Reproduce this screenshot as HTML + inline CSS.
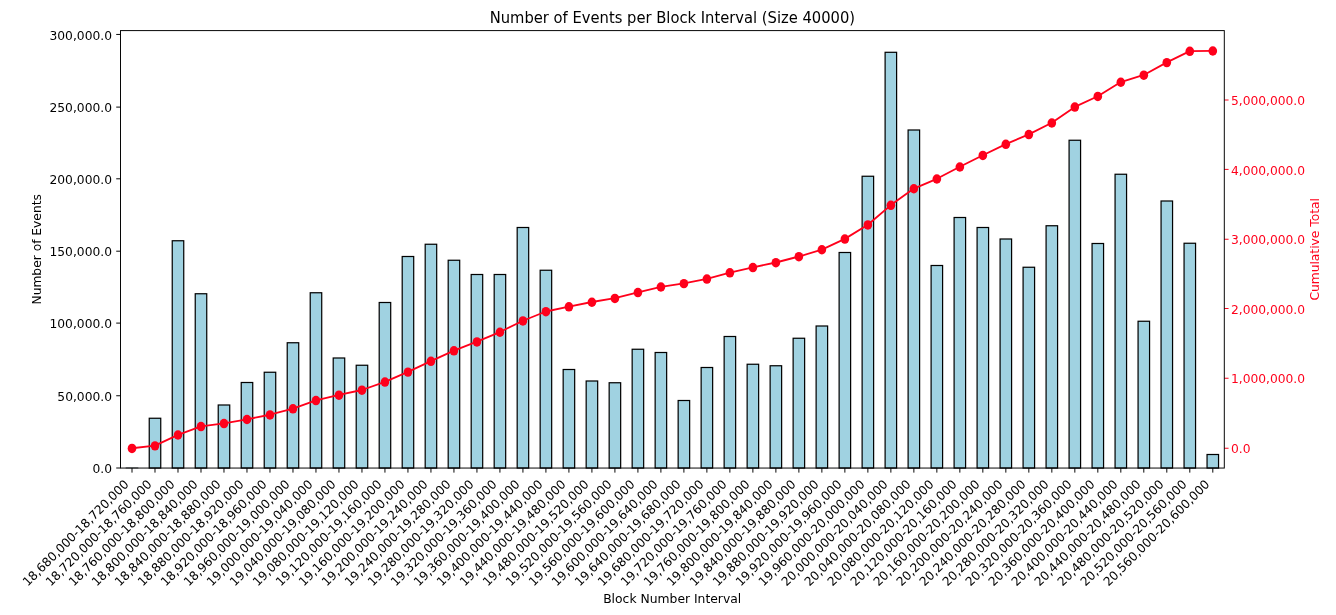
<!DOCTYPE html>
<html lang="en"><head><meta charset="utf-8"><title>Number of Events per Block Interval (Size 40000)</title>
<style>
html,body{margin:0;padding:0;background:#fff;}
body{width:1336px;height:615px;overflow:hidden;}
svg{display:block;}
text{font-family:"DejaVu Sans", "Liberation Sans", sans-serif;font-size:12.28px;fill:#000;}
.t{font-size:14.74px;}
.r{fill:#ff001b;}
.x{font-size:12.2px;}
.bar{fill:#a0d2e1;stroke:#000;stroke-width:1.220;stroke-linejoin:miter;}
.sp{stroke:#000;stroke-width:0.976;fill:none;stroke-linecap:square;}
.tk{stroke:#000;stroke-width:0.976;}
.tkr{stroke:#ff001b;stroke-width:0.976;}
</style></head><body>
<svg width="1336" height="615" viewBox="0 0 1336 615">
<rect width="1336" height="615" fill="#ffffff"/>

<g>
<rect class="bar" x="126.25" y="467.80" width="11.50" height="0.25" stroke-opacity="0.45"/>
<rect class="bar" x="149.24" y="418.25" width="11.50" height="49.80"/>
<rect class="bar" x="172.24" y="240.75" width="11.50" height="227.30"/>
<rect class="bar" x="195.24" y="293.75" width="11.50" height="174.30"/>
<rect class="bar" x="218.23" y="405.00" width="11.50" height="63.05"/>
<rect class="bar" x="241.23" y="382.50" width="11.50" height="85.55"/>
<rect class="bar" x="264.22" y="372.25" width="11.50" height="95.80"/>
<rect class="bar" x="287.22" y="342.75" width="11.50" height="125.30"/>
<rect class="bar" x="310.22" y="292.75" width="11.50" height="175.30"/>
<rect class="bar" x="333.21" y="358.00" width="11.50" height="110.05"/>
<rect class="bar" x="356.21" y="365.25" width="11.50" height="102.80"/>
<rect class="bar" x="379.20" y="302.50" width="11.50" height="165.55"/>
<rect class="bar" x="402.20" y="256.50" width="11.50" height="211.55"/>
<rect class="bar" x="425.19" y="244.25" width="11.50" height="223.80"/>
<rect class="bar" x="448.19" y="260.25" width="11.50" height="207.80"/>
<rect class="bar" x="471.19" y="274.50" width="11.50" height="193.55"/>
<rect class="bar" x="494.18" y="274.50" width="11.50" height="193.55"/>
<rect class="bar" x="517.18" y="227.50" width="11.50" height="240.55"/>
<rect class="bar" x="540.17" y="270.25" width="11.50" height="197.80"/>
<rect class="bar" x="563.17" y="369.50" width="11.50" height="98.55"/>
<rect class="bar" x="586.17" y="381.00" width="11.50" height="87.05"/>
<rect class="bar" x="609.16" y="382.75" width="11.50" height="85.30"/>
<rect class="bar" x="632.16" y="349.25" width="11.50" height="118.80"/>
<rect class="bar" x="655.15" y="352.50" width="11.50" height="115.55"/>
<rect class="bar" x="678.15" y="400.50" width="11.50" height="67.55"/>
<rect class="bar" x="701.14" y="367.50" width="11.50" height="100.55"/>
<rect class="bar" x="724.14" y="336.50" width="11.50" height="131.55"/>
<rect class="bar" x="747.14" y="364.25" width="11.50" height="103.80"/>
<rect class="bar" x="770.13" y="365.75" width="11.50" height="102.30"/>
<rect class="bar" x="793.13" y="338.25" width="11.50" height="129.80"/>
<rect class="bar" x="816.12" y="326.00" width="11.50" height="142.05"/>
<rect class="bar" x="839.12" y="252.50" width="11.50" height="215.55"/>
<rect class="bar" x="862.12" y="176.25" width="11.50" height="291.80"/>
<rect class="bar" x="885.11" y="52.30" width="11.50" height="415.75"/>
<rect class="bar" x="908.11" y="130.00" width="11.50" height="338.05"/>
<rect class="bar" x="931.10" y="265.50" width="11.50" height="202.55"/>
<rect class="bar" x="954.10" y="217.50" width="11.50" height="250.55"/>
<rect class="bar" x="977.09" y="227.50" width="11.50" height="240.55"/>
<rect class="bar" x="1000.09" y="239.00" width="11.50" height="229.05"/>
<rect class="bar" x="1023.09" y="267.25" width="11.50" height="200.80"/>
<rect class="bar" x="1046.08" y="225.75" width="11.50" height="242.30"/>
<rect class="bar" x="1069.08" y="140.25" width="11.50" height="327.80"/>
<rect class="bar" x="1092.07" y="243.50" width="11.50" height="224.55"/>
<rect class="bar" x="1115.07" y="174.25" width="11.50" height="293.80"/>
<rect class="bar" x="1138.07" y="321.25" width="11.50" height="146.80"/>
<rect class="bar" x="1161.06" y="201.00" width="11.50" height="267.05"/>
<rect class="bar" x="1184.06" y="243.25" width="11.50" height="224.80"/>
<rect class="bar" x="1207.05" y="454.50" width="11.50" height="13.55"/>
</g>
<g>
<line class="tk" x1="132.00" y1="468.05" x2="132.00" y2="472.62"/>
<line class="tk" x1="154.99" y1="468.05" x2="154.99" y2="472.62"/>
<line class="tk" x1="177.99" y1="468.05" x2="177.99" y2="472.62"/>
<line class="tk" x1="200.99" y1="468.05" x2="200.99" y2="472.62"/>
<line class="tk" x1="223.98" y1="468.05" x2="223.98" y2="472.62"/>
<line class="tk" x1="246.98" y1="468.05" x2="246.98" y2="472.62"/>
<line class="tk" x1="269.97" y1="468.05" x2="269.97" y2="472.62"/>
<line class="tk" x1="292.97" y1="468.05" x2="292.97" y2="472.62"/>
<line class="tk" x1="315.96" y1="468.05" x2="315.96" y2="472.62"/>
<line class="tk" x1="338.96" y1="468.05" x2="338.96" y2="472.62"/>
<line class="tk" x1="361.96" y1="468.05" x2="361.96" y2="472.62"/>
<line class="tk" x1="384.95" y1="468.05" x2="384.95" y2="472.62"/>
<line class="tk" x1="407.95" y1="468.05" x2="407.95" y2="472.62"/>
<line class="tk" x1="430.94" y1="468.05" x2="430.94" y2="472.62"/>
<line class="tk" x1="453.94" y1="468.05" x2="453.94" y2="472.62"/>
<line class="tk" x1="476.94" y1="468.05" x2="476.94" y2="472.62"/>
<line class="tk" x1="499.93" y1="468.05" x2="499.93" y2="472.62"/>
<line class="tk" x1="522.93" y1="468.05" x2="522.93" y2="472.62"/>
<line class="tk" x1="545.92" y1="468.05" x2="545.92" y2="472.62"/>
<line class="tk" x1="568.92" y1="468.05" x2="568.92" y2="472.62"/>
<line class="tk" x1="591.91" y1="468.05" x2="591.91" y2="472.62"/>
<line class="tk" x1="614.91" y1="468.05" x2="614.91" y2="472.62"/>
<line class="tk" x1="637.91" y1="468.05" x2="637.91" y2="472.62"/>
<line class="tk" x1="660.90" y1="468.05" x2="660.90" y2="472.62"/>
<line class="tk" x1="683.90" y1="468.05" x2="683.90" y2="472.62"/>
<line class="tk" x1="706.89" y1="468.05" x2="706.89" y2="472.62"/>
<line class="tk" x1="729.89" y1="468.05" x2="729.89" y2="472.62"/>
<line class="tk" x1="752.89" y1="468.05" x2="752.89" y2="472.62"/>
<line class="tk" x1="775.88" y1="468.05" x2="775.88" y2="472.62"/>
<line class="tk" x1="798.88" y1="468.05" x2="798.88" y2="472.62"/>
<line class="tk" x1="821.87" y1="468.05" x2="821.87" y2="472.62"/>
<line class="tk" x1="844.87" y1="468.05" x2="844.87" y2="472.62"/>
<line class="tk" x1="867.86" y1="468.05" x2="867.86" y2="472.62"/>
<line class="tk" x1="890.86" y1="468.05" x2="890.86" y2="472.62"/>
<line class="tk" x1="913.86" y1="468.05" x2="913.86" y2="472.62"/>
<line class="tk" x1="936.85" y1="468.05" x2="936.85" y2="472.62"/>
<line class="tk" x1="959.85" y1="468.05" x2="959.85" y2="472.62"/>
<line class="tk" x1="982.84" y1="468.05" x2="982.84" y2="472.62"/>
<line class="tk" x1="1005.84" y1="468.05" x2="1005.84" y2="472.62"/>
<line class="tk" x1="1028.84" y1="468.05" x2="1028.84" y2="472.62"/>
<line class="tk" x1="1051.83" y1="468.05" x2="1051.83" y2="472.62"/>
<line class="tk" x1="1074.83" y1="468.05" x2="1074.83" y2="472.62"/>
<line class="tk" x1="1097.82" y1="468.05" x2="1097.82" y2="472.62"/>
<line class="tk" x1="1120.82" y1="468.05" x2="1120.82" y2="472.62"/>
<line class="tk" x1="1143.81" y1="468.05" x2="1143.81" y2="472.62"/>
<line class="tk" x1="1166.81" y1="468.05" x2="1166.81" y2="472.62"/>
<line class="tk" x1="1189.81" y1="468.05" x2="1189.81" y2="472.62"/>
<line class="tk" x1="1212.80" y1="468.05" x2="1212.80" y2="472.62"/>
</g><g>
<text class="x" text-anchor="end" transform="translate(123.00,478.50) rotate(-45)" x="0" y="0" dy="0.76em">18,680,000-18,720,000</text>
<text class="x" text-anchor="end" transform="translate(145.99,478.50) rotate(-45)" x="0" y="0" dy="0.76em">18,720,000-18,760,000</text>
<text class="x" text-anchor="end" transform="translate(168.99,478.50) rotate(-45)" x="0" y="0" dy="0.76em">18,760,000-18,800,000</text>
<text class="x" text-anchor="end" transform="translate(191.99,478.50) rotate(-45)" x="0" y="0" dy="0.76em">18,800,000-18,840,000</text>
<text class="x" text-anchor="end" transform="translate(214.98,478.50) rotate(-45)" x="0" y="0" dy="0.76em">18,840,000-18,880,000</text>
<text class="x" text-anchor="end" transform="translate(237.98,478.50) rotate(-45)" x="0" y="0" dy="0.76em">18,880,000-18,920,000</text>
<text class="x" text-anchor="end" transform="translate(260.97,478.50) rotate(-45)" x="0" y="0" dy="0.76em">18,920,000-18,960,000</text>
<text class="x" text-anchor="end" transform="translate(283.97,478.50) rotate(-45)" x="0" y="0" dy="0.76em">18,960,000-19,000,000</text>
<text class="x" text-anchor="end" transform="translate(306.96,478.50) rotate(-45)" x="0" y="0" dy="0.76em">19,000,000-19,040,000</text>
<text class="x" text-anchor="end" transform="translate(329.96,478.50) rotate(-45)" x="0" y="0" dy="0.76em">19,040,000-19,080,000</text>
<text class="x" text-anchor="end" transform="translate(352.96,478.50) rotate(-45)" x="0" y="0" dy="0.76em">19,080,000-19,120,000</text>
<text class="x" text-anchor="end" transform="translate(375.95,478.50) rotate(-45)" x="0" y="0" dy="0.76em">19,120,000-19,160,000</text>
<text class="x" text-anchor="end" transform="translate(398.95,478.50) rotate(-45)" x="0" y="0" dy="0.76em">19,160,000-19,200,000</text>
<text class="x" text-anchor="end" transform="translate(421.94,478.50) rotate(-45)" x="0" y="0" dy="0.76em">19,200,000-19,240,000</text>
<text class="x" text-anchor="end" transform="translate(444.94,478.50) rotate(-45)" x="0" y="0" dy="0.76em">19,240,000-19,280,000</text>
<text class="x" text-anchor="end" transform="translate(467.94,478.50) rotate(-45)" x="0" y="0" dy="0.76em">19,280,000-19,320,000</text>
<text class="x" text-anchor="end" transform="translate(490.93,478.50) rotate(-45)" x="0" y="0" dy="0.76em">19,320,000-19,360,000</text>
<text class="x" text-anchor="end" transform="translate(513.93,478.50) rotate(-45)" x="0" y="0" dy="0.76em">19,360,000-19,400,000</text>
<text class="x" text-anchor="end" transform="translate(536.92,478.50) rotate(-45)" x="0" y="0" dy="0.76em">19,400,000-19,440,000</text>
<text class="x" text-anchor="end" transform="translate(559.92,478.50) rotate(-45)" x="0" y="0" dy="0.76em">19,440,000-19,480,000</text>
<text class="x" text-anchor="end" transform="translate(582.91,478.50) rotate(-45)" x="0" y="0" dy="0.76em">19,480,000-19,520,000</text>
<text class="x" text-anchor="end" transform="translate(605.91,478.50) rotate(-45)" x="0" y="0" dy="0.76em">19,520,000-19,560,000</text>
<text class="x" text-anchor="end" transform="translate(628.91,478.50) rotate(-45)" x="0" y="0" dy="0.76em">19,560,000-19,600,000</text>
<text class="x" text-anchor="end" transform="translate(651.90,478.50) rotate(-45)" x="0" y="0" dy="0.76em">19,600,000-19,640,000</text>
<text class="x" text-anchor="end" transform="translate(674.90,478.50) rotate(-45)" x="0" y="0" dy="0.76em">19,640,000-19,680,000</text>
<text class="x" text-anchor="end" transform="translate(697.89,478.50) rotate(-45)" x="0" y="0" dy="0.76em">19,680,000-19,720,000</text>
<text class="x" text-anchor="end" transform="translate(720.89,478.50) rotate(-45)" x="0" y="0" dy="0.76em">19,720,000-19,760,000</text>
<text class="x" text-anchor="end" transform="translate(743.89,478.50) rotate(-45)" x="0" y="0" dy="0.76em">19,760,000-19,800,000</text>
<text class="x" text-anchor="end" transform="translate(766.88,478.50) rotate(-45)" x="0" y="0" dy="0.76em">19,800,000-19,840,000</text>
<text class="x" text-anchor="end" transform="translate(789.88,478.50) rotate(-45)" x="0" y="0" dy="0.76em">19,840,000-19,880,000</text>
<text class="x" text-anchor="end" transform="translate(812.87,478.50) rotate(-45)" x="0" y="0" dy="0.76em">19,880,000-19,920,000</text>
<text class="x" text-anchor="end" transform="translate(835.87,478.50) rotate(-45)" x="0" y="0" dy="0.76em">19,920,000-19,960,000</text>
<text class="x" text-anchor="end" transform="translate(858.86,478.50) rotate(-45)" x="0" y="0" dy="0.76em">19,960,000-20,000,000</text>
<text class="x" text-anchor="end" transform="translate(881.86,478.50) rotate(-45)" x="0" y="0" dy="0.76em">20,000,000-20,040,000</text>
<text class="x" text-anchor="end" transform="translate(904.86,478.50) rotate(-45)" x="0" y="0" dy="0.76em">20,040,000-20,080,000</text>
<text class="x" text-anchor="end" transform="translate(927.85,478.50) rotate(-45)" x="0" y="0" dy="0.76em">20,080,000-20,120,000</text>
<text class="x" text-anchor="end" transform="translate(950.85,478.50) rotate(-45)" x="0" y="0" dy="0.76em">20,120,000-20,160,000</text>
<text class="x" text-anchor="end" transform="translate(973.84,478.50) rotate(-45)" x="0" y="0" dy="0.76em">20,160,000-20,200,000</text>
<text class="x" text-anchor="end" transform="translate(996.84,478.50) rotate(-45)" x="0" y="0" dy="0.76em">20,200,000-20,240,000</text>
<text class="x" text-anchor="end" transform="translate(1019.84,478.50) rotate(-45)" x="0" y="0" dy="0.76em">20,240,000-20,280,000</text>
<text class="x" text-anchor="end" transform="translate(1042.83,478.50) rotate(-45)" x="0" y="0" dy="0.76em">20,280,000-20,320,000</text>
<text class="x" text-anchor="end" transform="translate(1065.83,478.50) rotate(-45)" x="0" y="0" dy="0.76em">20,320,000-20,360,000</text>
<text class="x" text-anchor="end" transform="translate(1088.82,478.50) rotate(-45)" x="0" y="0" dy="0.76em">20,360,000-20,400,000</text>
<text class="x" text-anchor="end" transform="translate(1111.82,478.50) rotate(-45)" x="0" y="0" dy="0.76em">20,400,000-20,440,000</text>
<text class="x" text-anchor="end" transform="translate(1134.81,478.50) rotate(-45)" x="0" y="0" dy="0.76em">20,440,000-20,480,000</text>
<text class="x" text-anchor="end" transform="translate(1157.81,478.50) rotate(-45)" x="0" y="0" dy="0.76em">20,480,000-20,520,000</text>
<text class="x" text-anchor="end" transform="translate(1180.81,478.50) rotate(-45)" x="0" y="0" dy="0.76em">20,520,000-20,560,000</text>
<text class="x" text-anchor="end" transform="translate(1203.80,478.50) rotate(-45)" x="0" y="0" dy="0.76em">20,560,000-20,600,000</text>
</g>
<g>
<line class="tk" x1="116.23" y1="468.00" x2="120.50" y2="468.00"/>
<text text-anchor="end" x="111.96" y="473.20">0.0</text>
<line class="tk" x1="116.23" y1="395.75" x2="120.50" y2="395.75"/>
<text text-anchor="end" x="111.96" y="400.95">50,000.0</text>
<line class="tk" x1="116.23" y1="323.10" x2="120.50" y2="323.10"/>
<text text-anchor="end" x="111.96" y="328.30">100,000.0</text>
<line class="tk" x1="116.23" y1="251.20" x2="120.50" y2="251.20"/>
<text text-anchor="end" x="111.96" y="256.40">150,000.0</text>
<line class="tk" x1="116.23" y1="178.80" x2="120.50" y2="178.80"/>
<text text-anchor="end" x="111.96" y="184.00">200,000.0</text>
<line class="tk" x1="116.23" y1="107.10" x2="120.50" y2="107.10"/>
<text text-anchor="end" x="111.96" y="112.30">250,000.0</text>
<line class="tk" x1="116.23" y1="34.45" x2="120.50" y2="34.45"/>
<text text-anchor="end" x="111.96" y="39.65">300,000.0</text>
</g>
<g>
<line class="tkr" x1="1224.30" y1="448.25" x2="1228.57" y2="448.25"/>
<text class="r" x="1230.94" y="453.45">0.0</text>
<line class="tkr" x1="1224.30" y1="378.25" x2="1228.57" y2="378.25"/>
<text class="r" x="1230.94" y="383.45">1,000,000.0</text>
<line class="tkr" x1="1224.30" y1="308.50" x2="1228.57" y2="308.50"/>
<text class="r" x="1230.94" y="313.70">2,000,000.0</text>
<line class="tkr" x1="1224.30" y1="239.25" x2="1228.57" y2="239.25"/>
<text class="r" x="1230.94" y="244.45">3,000,000.0</text>
<line class="tkr" x1="1224.30" y1="169.40" x2="1228.57" y2="169.40"/>
<text class="r" x="1230.94" y="174.60">4,000,000.0</text>
<line class="tkr" x1="1224.30" y1="100.00" x2="1228.57" y2="100.00"/>
<text class="r" x="1230.94" y="105.20">5,000,000.0</text>
</g>
<polyline points="132.00,448.25 154.99,445.67 177.99,434.82 200.99,426.37 223.98,423.35 246.98,419.29 269.97,414.73 292.97,408.59 315.96,400.37 338.96,394.96 361.96,389.99 384.95,381.87 407.95,371.90 430.94,361.13 453.94,350.63 476.94,341.71 499.93,332.05 522.93,320.75 545.92,311.49 568.92,306.61 591.91,302.02 614.91,298.21 637.91,292.35 660.90,286.82 683.90,283.44 706.89,278.89 729.89,272.60 752.89,267.35 775.88,262.51 798.88,256.51 821.87,249.58 844.87,238.89 867.86,224.73 890.86,205.09 913.86,188.57 936.85,178.81 959.85,166.78 982.84,155.23 1005.84,144.14 1028.84,134.37 1051.83,122.78 1074.83,106.89 1097.82,96.22 1120.82,82.02 1143.81,74.98 1166.81,62.42 1189.81,51.13 1212.80,50.81" fill="none" stroke="#ff001b" stroke-width="1.83" stroke-linejoin="round"/>
<g fill="#ff001b">
<ellipse cx="132.00" cy="448.45" rx="4.32" ry="4.72"/>
<ellipse cx="154.99" cy="445.87" rx="4.32" ry="4.72"/>
<ellipse cx="177.99" cy="435.02" rx="4.32" ry="4.72"/>
<ellipse cx="200.99" cy="426.57" rx="4.32" ry="4.72"/>
<ellipse cx="223.98" cy="423.55" rx="4.32" ry="4.72"/>
<ellipse cx="246.98" cy="419.49" rx="4.32" ry="4.72"/>
<ellipse cx="269.97" cy="414.93" rx="4.32" ry="4.72"/>
<ellipse cx="292.97" cy="408.79" rx="4.32" ry="4.72"/>
<ellipse cx="315.96" cy="400.57" rx="4.32" ry="4.72"/>
<ellipse cx="338.96" cy="395.16" rx="4.32" ry="4.72"/>
<ellipse cx="361.96" cy="390.19" rx="4.32" ry="4.72"/>
<ellipse cx="384.95" cy="382.07" rx="4.32" ry="4.72"/>
<ellipse cx="407.95" cy="372.10" rx="4.32" ry="4.72"/>
<ellipse cx="430.94" cy="361.33" rx="4.32" ry="4.72"/>
<ellipse cx="453.94" cy="350.83" rx="4.32" ry="4.72"/>
<ellipse cx="476.94" cy="341.91" rx="4.32" ry="4.72"/>
<ellipse cx="499.93" cy="332.25" rx="4.32" ry="4.72"/>
<ellipse cx="522.93" cy="320.95" rx="4.32" ry="4.72"/>
<ellipse cx="545.92" cy="311.69" rx="4.32" ry="4.72"/>
<ellipse cx="568.92" cy="306.81" rx="4.32" ry="4.72"/>
<ellipse cx="591.91" cy="302.22" rx="4.32" ry="4.72"/>
<ellipse cx="614.91" cy="298.41" rx="4.32" ry="4.72"/>
<ellipse cx="637.91" cy="292.55" rx="4.32" ry="4.72"/>
<ellipse cx="660.90" cy="287.02" rx="4.32" ry="4.72"/>
<ellipse cx="683.90" cy="283.64" rx="4.32" ry="4.72"/>
<ellipse cx="706.89" cy="279.09" rx="4.32" ry="4.72"/>
<ellipse cx="729.89" cy="272.80" rx="4.32" ry="4.72"/>
<ellipse cx="752.89" cy="267.55" rx="4.32" ry="4.72"/>
<ellipse cx="775.88" cy="262.71" rx="4.32" ry="4.72"/>
<ellipse cx="798.88" cy="256.71" rx="4.32" ry="4.72"/>
<ellipse cx="821.87" cy="249.78" rx="4.32" ry="4.72"/>
<ellipse cx="844.87" cy="239.09" rx="4.32" ry="4.72"/>
<ellipse cx="867.86" cy="224.93" rx="4.32" ry="4.72"/>
<ellipse cx="890.86" cy="205.29" rx="4.32" ry="4.72"/>
<ellipse cx="913.86" cy="188.77" rx="4.32" ry="4.72"/>
<ellipse cx="936.85" cy="179.01" rx="4.32" ry="4.72"/>
<ellipse cx="959.85" cy="166.98" rx="4.32" ry="4.72"/>
<ellipse cx="982.84" cy="155.43" rx="4.32" ry="4.72"/>
<ellipse cx="1005.84" cy="144.34" rx="4.32" ry="4.72"/>
<ellipse cx="1028.84" cy="134.57" rx="4.32" ry="4.72"/>
<ellipse cx="1051.83" cy="122.98" rx="4.32" ry="4.72"/>
<ellipse cx="1074.83" cy="107.09" rx="4.32" ry="4.72"/>
<ellipse cx="1097.82" cy="96.42" rx="4.32" ry="4.72"/>
<ellipse cx="1120.82" cy="82.22" rx="4.32" ry="4.72"/>
<ellipse cx="1143.81" cy="75.18" rx="4.32" ry="4.72"/>
<ellipse cx="1166.81" cy="62.62" rx="4.32" ry="4.72"/>
<ellipse cx="1189.81" cy="51.33" rx="4.32" ry="4.72"/>
<ellipse cx="1212.80" cy="51.01" rx="4.32" ry="4.72"/>
</g>
<rect class="sp" x="120.50" y="30.60" width="1103.80" height="437.45"/>
<text class="t" text-anchor="middle" transform="translate(672.40,22.9) scale(1,1.03)">Number of Events per Block Interval (Size 40000)</text>
<text text-anchor="middle" style="font-size:12.35px" transform="translate(672.20,602.7) scale(1,1.05)">Block Number Interval</text>
<text text-anchor="middle" transform="translate(41.4,249.33) rotate(-90)">Number of Events</text>
<text class="r" text-anchor="middle" transform="translate(1319.2,249.33) rotate(-90)">Cumulative Total</text>
</svg></body></html>
